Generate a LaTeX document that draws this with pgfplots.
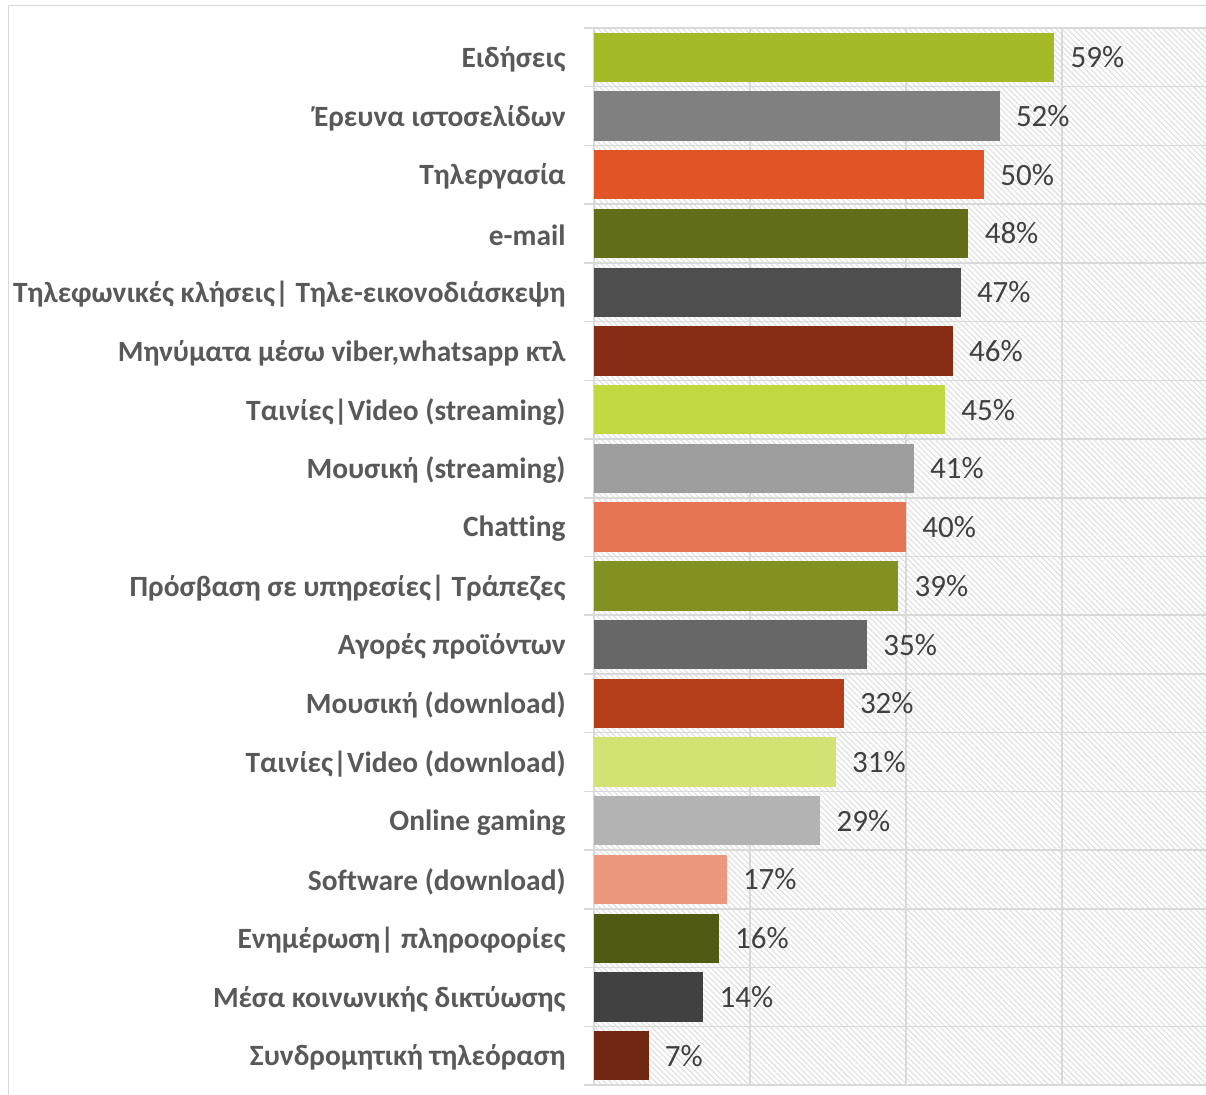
\documentclass[border=0pt]{standalone}
\usepackage{pgfplots}
\pgfplotsset{compat=1.18}
\usepackage{fontspec}
\setmainfont{Carlito}[Ligatures=NoCommon]
\usetikzlibrary{patterns.meta}

\definecolor{c1}{RGB}{166,185,41}
\definecolor{c2}{RGB}{128,128,128}
\definecolor{c3}{RGB}{224,84,38}
\definecolor{c4}{RGB}{100,110,24}
\definecolor{c5}{RGB}{78,78,78}
\definecolor{c6}{RGB}{135,45,21}
\definecolor{c7}{RGB}{195,215,65}
\definecolor{c8}{RGB}{158,158,158}
\definecolor{c9}{RGB}{230,117,84}
\definecolor{c10}{RGB}{132,145,34}
\definecolor{c11}{RGB}{103,103,103}
\definecolor{c12}{RGB}{180,62,26}
\definecolor{c13}{RGB}{212,225,115}
\definecolor{c14}{RGB}{179,179,179}
\definecolor{c15}{RGB}{236,152,125}
\definecolor{c16}{RGB}{80,90,19}
\definecolor{c17}{RGB}{65,65,65}
\definecolor{c18}{RGB}{113,40,19}
\definecolor{labc}{RGB}{89,89,89}
\definecolor{valc}{RGB}{64,64,64}
\definecolor{gridc}{RGB}{217,217,217}

\begin{document}
\begin{tikzpicture}
\useasboundingbox (0,0) rectangle (603pt,547pt);
\draw[gridc, line width=0.8pt] (4.25pt,-10pt) rectangle (620pt,544.25pt);
\begin{axis}[
  at={(297pt,4.5pt)}, anchor=south west,
  scale only axis, width=312pt, height=528.5pt,
  xbar, bar width=0.84, bar shift=0pt,
  enlargelimits=false,
  xmin=0, xmax=80,
  ymin=-0.5, ymax=17.5, y dir=reverse,
  axis background/.style={pattern={Lines[angle=-45,distance=2pt,line width=0.55pt]}, pattern color=gray!25},
  axis line style={draw=none},
  xtick={0,20,40,60,80}, xticklabels={}, xmajorgrids,
  ytick={0,...,17}, minor ytick={-0.5,0.5,...,17.5}, yminorgrids,
  major tick length=0pt, minor tick length=5pt, tick align=outside,
  ytick pos=left, xtick pos=bottom,
  minor tick style={gridc, line width=0.75pt},
  grid style={gridc, line width=0.75pt},
  minor grid style={gridc, line width=0.75pt},
  yticklabel style={font=\fontsize{14.7}{17}\selectfont\bfseries, text=labc, anchor=east, inner sep=0pt, xshift=-14pt, yshift=-1pt},
  yticklabels={Ειδήσεις, {Έρευνα ιστοσελίδων\ }, Τηλεργασία, e-mail,
    {Τηλεφωνικές κλήσεις| Τηλε-εικονοδιάσκεψη}, {Μηνύματα μέσω viber,whatsapp κτλ},
    {Ταινίες|Video (streaming)}, {Μουσική (streaming)}, Chatting,
    {Πρόσβαση σε υπηρεσίες| Τράπεζες}, {Αγορές προϊόντων}, {Μουσική (download)},
    {Ταινίες|Video (download)}, {Online gaming}, {Software (download)},
    {Ενημέρωση| πληροφορίες}, {Μέσα κοινωνικής δικτύωσης}, {Συνδρομητική τηλεόραση}},
  nodes near coords={\pgfmathprintnumber[assume math mode=true]{\pgfplotspointmeta}\%},
  nodes near coords style={font=\fontsize{15.5}{18}\selectfont, text=valc, anchor=west, inner sep=0pt, xshift=8pt},
]
\addplot[fill=c1, draw=none] coordinates {(59,0)};
\addplot[fill=c2, draw=none] coordinates {(52,1)};
\addplot[fill=c3, draw=none] coordinates {(50,2)};
\addplot[fill=c4, draw=none] coordinates {(48,3)};
\addplot[fill=c5, draw=none] coordinates {(47,4)};
\addplot[fill=c6, draw=none] coordinates {(46,5)};
\addplot[fill=c7, draw=none] coordinates {(45,6)};
\addplot[fill=c8, draw=none] coordinates {(41,7)};
\addplot[fill=c9, draw=none] coordinates {(40,8)};
\addplot[fill=c10, draw=none] coordinates {(39,9)};
\addplot[fill=c11, draw=none] coordinates {(35,10)};
\addplot[fill=c12, draw=none] coordinates {(32,11)};
\addplot[fill=c13, draw=none] coordinates {(31,12)};
\addplot[fill=c14, draw=none] coordinates {(29,13)};
\addplot[fill=c15, draw=none] coordinates {(17,14)};
\addplot[fill=c16, draw=none] coordinates {(16,15)};
\addplot[fill=c17, draw=none] coordinates {(14,16)};
\addplot[fill=c18, draw=none] coordinates {(7,17)};
\end{axis}
\end{tikzpicture}
\end{document}
